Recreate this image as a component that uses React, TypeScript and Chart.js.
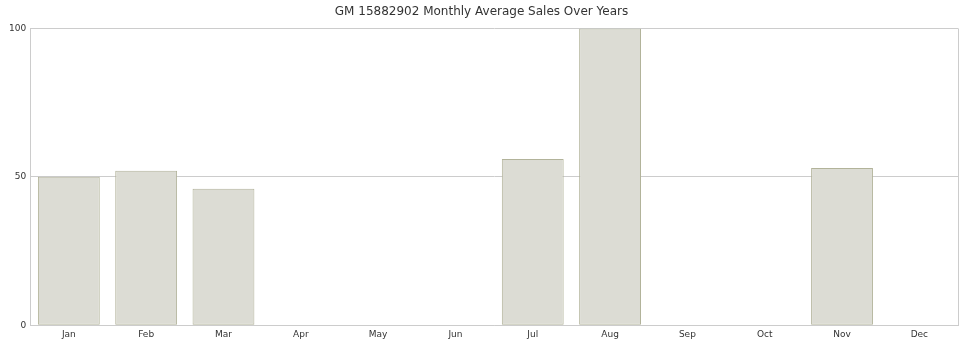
import React, { useEffect, useRef } from "react";
import { Chart, registerables } from "chart.js";

Chart.register(...registerables);

const months = ["Jan", "Feb", "Mar", "Apr", "May", "Jun", "Jul", "Aug", "Sep", "Oct", "Nov", "Dec"];
const sales = [50, 52, 46, null, null, null, 56, 100, null, null, 53, null];
const yTicks = [0, 50, 100];
const titleText = "GM 15882902 Monthly Average Sales Over Years";

const borderPlugin = {
  id: "rightBorder",
  afterDraw(chart: any) {
    const { ctx, chartArea } = chart;
    ctx.save();
    ctx.strokeStyle = "#cccccc";
    ctx.lineWidth = 1;
    ctx.beginPath();
    ctx.moveTo(Math.round(chartArea.right) + 0.5, chartArea.top);
    ctx.lineTo(Math.round(chartArea.right) + 0.5, chartArea.bottom);
    ctx.stroke();
    ctx.restore();
  },
};

export default function App() {
  const ref = useRef<HTMLCanvasElement>(null);
  useEffect(() => {
    document.body.style.margin = "0";
    const chart = new Chart(ref.current!, {
      type: "bar",
      data: {
        labels: months,
        datasets: [
          {
            data: sales as any,
            backgroundColor: "#dcdcd4",
            borderColor: "#b2b39a",
            borderWidth: 1,
            borderSkipped: false,
            barPercentage: 0.8,
            categoryPercentage: 1,
          },
        ],
      },
      options: {
        animation: false,
        responsive: false,
        layout: { padding: { left: 5, right: 10, top: 0, bottom: -4 } },
        plugins: {
          legend: { display: false },
          tooltip: { enabled: false },
          title: {
            display: true,
            text: titleText,
            color: "#333333",
            font: { family: "DejaVu Sans", size: 12, weight: "normal" },
            padding: { top: 5, bottom: 9 },
          },
        },
        scales: {
          x: {
            grid: { display: false, drawTicks: false },
            border: { color: "#cccccc" },
            ticks: { color: "#333333", font: { family: "DejaVu Sans", size: 9 }, padding: 4 },
          },
          y: {
            min: 0,
            max: 100,
            afterBuildTicks(axis: any) {
              axis.ticks = yTicks.map((v) => ({ value: v }));
            },
            grid: { color: "#cccccc", drawTicks: false },
            border: { color: "#cccccc" },
            ticks: { color: "#333333", font: { family: "DejaVu Sans", size: 9 }, padding: 4 },
          },
        },
      },
      plugins: [borderPlugin],
    });
    return () => chart.destroy();
  }, []);
  return <canvas ref={ref} width={968} height={340} style={{ display: "block" }} />;
}
